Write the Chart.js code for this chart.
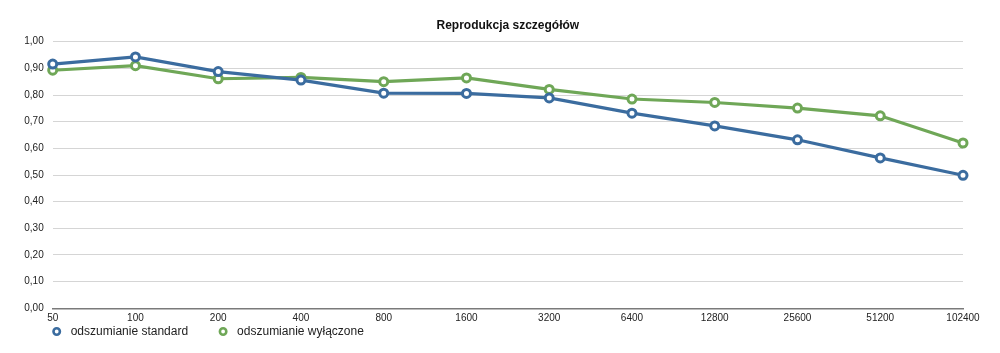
<!DOCTYPE html>
<html lang="pl">
<head>
<meta charset="UTF-8">
<title>Reprodukcja szczegółów</title>
<script src="https://cdn.jsdelivr.net/npm/chart.js"></script>
<style>
  html, body { margin: 0; padding: 0; background: #fff; }
  #wrap { width: 1000px; height: 353px; }
</style>
</head>
<body>
<div id="wrap"><canvas id="chart"></canvas></div>
<script>
  const categories = ['50', '100', '200', '400', '800', '1600', '3200', '6400', '12800', '25600', '51200', '102400'];
  const standard = [0.916, 0.943, 0.888, 0.856, 0.807, 0.806, 0.789, 0.732, 0.684, 0.632, 0.564, 0.499];
  const wylaczone = [0.893, 0.910, 0.861, 0.866, 0.850, 0.864, 0.821, 0.785, 0.772, 0.751, 0.722, 0.620];
  const yTickLabels = ['0,00', '0,10', '0,20', '0,30', '0,40', '0,50', '0,60', '0,70', '0,80', '0,90', '1,00'];

  const blue = '#3b6c9f';
  const green = '#6fa757';

  // legend drawn by hand so the markers sit where the original has them
  const bottomLegend = {
    id: 'bottomLegend',
    afterDraw(chart) {
      const ctx = chart.ctx;
      ctx.save();
      ctx.font = '12px "Liberation Sans", Arial, sans-serif';
      ctx.textBaseline = 'middle';
      let x = 56.7;
      const y = 331.5;
      chart.data.datasets.forEach(ds => {
        ctx.beginPath();
        ctx.arc(x, y, 3.2, 0, Math.PI * 2);
        ctx.fillStyle = '#fff';
        ctx.fill();
        ctx.lineWidth = 2.6;
        ctx.strokeStyle = ds.borderColor;
        ctx.stroke();
        ctx.fillStyle = '#222';
        ctx.fillText(ds.label, x + 14, y);
        x += 14 + ctx.measureText(ds.label).width + 35;
      });
      ctx.restore();
    }
  };

  new Chart(document.getElementById('chart'), {
    type: 'line',
    data: {
      labels: categories,
      datasets: [{
        label: 'odszumianie standard',
        data: standard,
        borderColor: blue,
        pointBorderColor: blue,
        pointBackgroundColor: '#fff',
        borderWidth: 3.2,
        pointRadius: 4,
        pointBorderWidth: 3,
        tension: 0,
        clip: false
      }, {
        label: 'odszumianie wyłączone',
        data: wylaczone,
        borderColor: green,
        pointBorderColor: green,
        pointBackgroundColor: '#fff',
        borderWidth: 3.2,
        pointRadius: 4,
        pointBorderWidth: 3,
        tension: 0,
        clip: false
      }]
    },
    options: {
      responsive: true,
      maintainAspectRatio: false,
      animation: false,
      layout: { padding: { top: 0, right: 37, bottom: 0, left: 0 } },
      plugins: {
        legend: { display: false },
        tooltip: { enabled: false },
        title: {
          display: true,
          text: 'Reprodukcja szczegółów',
          fullSize: false,
          color: '#111',
          font: { family: '"Liberation Sans", Arial, sans-serif', size: 12, weight: 'bold' },
          padding: { top: 18.5, bottom: 8.8 }
        }
      },
      scales: {
        x: {
          offset: false,
          grid: { display: false, drawTicks: false },
          border: { display: true, color: '#7a7a7a', width: 1.5 },
          ticks: {
            color: '#222',
            font: { family: '"Liberation Sans", Arial, sans-serif', size: 10 },
            padding: 4,
            maxRotation: 0,
            autoSkip: false
          },
          afterFit(scale) { scale.height = 44.7; }
        },
        y: {
          min: 0,
          max: 1,
          border: { display: false },
          grid: {
            drawTicks: false,
            color: ctx => ctx.tick && ctx.tick.value === 0 ? 'rgba(0,0,0,0)' : '#d5d5d5',
            lineWidth: 1
          },
          ticks: {
            stepSize: 0.1,
            padding: 9,
            color: '#222',
            font: { family: '"Liberation Sans", Arial, sans-serif', size: 10 },
            callback: (v, i) => yTickLabels[i]
          },
          afterFit(scale) { scale.width = 52.7; }
        }
      }
    },
    plugins: [bottomLegend]
  });
</script>
</body>
</html>
